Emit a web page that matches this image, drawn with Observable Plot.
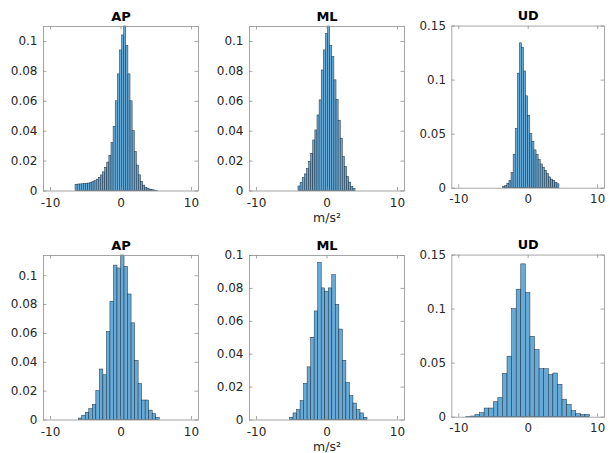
<!DOCTYPE html>
<html>
<head>
<meta charset="utf-8">
<script src="https://cdn.jsdelivr.net/npm/d3@7"></script>
<script src="https://cdn.jsdelivr.net/npm/@observablehq/plot@0.6"></script>
<style>
  body { margin: 0; background: #fff; }
  #fig { position: relative; width: 610px; height: 453px; overflow: hidden; background: #fff; }
  #fig .panel { position: absolute; }
</style>
</head>
<body>
<div id="fig"></div>
<script>
// Acceleration histograms (probability per bin), three axes, two recordings.
const axisNames = ["AP", "ML", "UD"];
const unitLabel = "m/s²";
const xTicks = [-10, 0, 10];
const yTicksFine = [0, 0.02, 0.04, 0.06, 0.08, 0.1];
const yTicksCoarse = [0, 0.05, 0.1, 0.15];

// Row 1 — bin width 0.3
const apTopStart = -6.45, apTopWidth = 0.3;
const apTopProb = [0.0042, 0.0043, 0.0044, 0.0045, 0.0046, 0.0048, 0.0050, 0.0054, 0.0059, 0.0066,
  0.0076, 0.0088, 0.0104, 0.0125, 0.0155, 0.019, 0.0235, 0.032, 0.043, 0.060, 0.078, 0.094, 0.104,
  0.118, 0.097, 0.078, 0.060, 0.040, 0.026, 0.017, 0.0105, 0.0062, 0.0036, 0.0022, 0.0014, 0.0009,
  0.0006, 0.0003, 0.0002];

const mlTopStart = -4.05, mlTopWidth = 0.3;
const mlTopProb = [0.003, 0.0055, 0.0087, 0.0111, 0.0149, 0.0194, 0.0249, 0.0338, 0.0405, 0.0505,
  0.0606, 0.0806, 0.094, 0.105, 0.12, 0.097, 0.0895, 0.074, 0.061, 0.047, 0.035, 0.0227, 0.016,
  0.0094, 0.0056, 0.0027, 0.0013];

const udTopStart = -3.6, udTopWidth = 0.3;
const udTopProb = [0.0012, 0.002, 0.0042, 0.0066, 0.014, 0.031, 0.055, 0.106, 0.134, 0.13, 0.108,
  0.085, 0.067, 0.05, 0.043, 0.035, 0.031, 0.026, 0.022, 0.019, 0.016, 0.013, 0.01, 0.008, 0.0066,
  0.005, 0.0036];

// Row 2 — wider bins
const apBotStart = -6, apBotWidth = 0.5;
const apBotProb = [0.001, 0.003, 0.005, 0.0075, 0.0105, 0.02, 0.035, 0.031, 0.061, 0.082, 0.107,
  0.105, 0.12, 0.106, 0.087, 0.067, 0.041, 0.025, 0.0135, 0.0135, 0.0065, 0.004, 0.0015];

const mlBotStart = -5.25, mlBotWidth = 0.5;
const mlBotProb = [0.0014, 0.004, 0.006, 0.0115, 0.022, 0.032, 0.05, 0.066, 0.0954, 0.080, 0.078,
  0.080, 0.088, 0.070, 0.055, 0.036, 0.0225, 0.0145, 0.010, 0.006, 0.004, 0.0014];

const udBotStart = -8.92, udBotWidth = 0.66;
const udBotProb = [0.0004, 0.0006, 0.002, 0.0037, 0.008, 0.008, 0.0138, 0.0178, 0.040, 0.056, 0.100,
  0.118, 0.1414, 0.1148, 0.0744, 0.062, 0.0444, 0.0444, 0.039, 0.0404, 0.030, 0.0162, 0.0113,
  0.0055, 0.0028, 0.002, 0.002];

// Layout of the 2 x 3 grid (frame positions in page pixels)
const frameW = 155, frameH = 164.5;
const colX = [43, 248.5, 452];
const rowY = [26.3, 254.7];
const m = {left: 46, right: 6, top: 30, bottom: 34};
const ink = "#262626";
const fmt = d => (d === 0 ? "0" : String(d));

function histPanel({title, start, width, probs, yMax, yTicks, xlabel}) {
  const bins = probs.map((p, i) => ({x1: start + i * width, x2: start + (i + 1) * width, p}));
  const tick = 3.5;
  return Plot.plot({
    width: frameW + m.left + m.right,
    height: frameH + m.top + m.bottom,
    marginLeft: m.left, marginRight: m.right, marginTop: m.top, marginBottom: m.bottom,
    style: {fontFamily: "'DejaVu Sans', sans-serif", fontSize: "12px", color: ink, background: "transparent", overflow: "visible"},
    x: {domain: [-11, 11]},
    y: {domain: [0, yMax], clamp: true},
    marks: [
      Plot.rect(bins, {x1: "x1", x2: "x2", y1: 0, y2: "p", fill: "#66aad7", stroke: "#1c2c3c", strokeWidth: 0.5}),
      Plot.frame({stroke: "#8f8f8f", strokeWidth: 0.8}),
      // inward ticks on all four sides
      Plot.tickX(xTicks, {x: d => d, insetTop: frameH - tick, stroke: "#8f8f8f", strokeWidth: 0.8}),
      Plot.tickX(xTicks, {x: d => d, insetBottom: frameH - tick, stroke: "#8f8f8f", strokeWidth: 0.8}),
      Plot.tickY(yTicks, {y: d => d, insetRight: frameW - tick, stroke: "#8f8f8f", strokeWidth: 0.8}),
      Plot.tickY(yTicks, {y: d => d, insetLeft: frameW - tick, stroke: "#8f8f8f", strokeWidth: 0.8}),
      Plot.axisX(xTicks, {tickSize: 0, tickPadding: 7, tickFormat: fmt, label: null, fontSize: 12}),
      Plot.axisY(yTicks, {tickSize: 0, tickPadding: 6, tickFormat: fmt, label: null, fontSize: 12}),
      Plot.text([title], {frameAnchor: "top", lineAnchor: "middle", dy: -10, fontWeight: "bold", fontSize: 13, fill: "#000"}),
      xlabel ? Plot.text([xlabel], {frameAnchor: "bottom", lineAnchor: "middle", dy: 27, fontSize: 12.5, fill: ink}) : null
    ]
  });
}

const panels = [
  {title: axisNames[0], start: apTopStart, width: apTopWidth, probs: apTopProb, yMax: 0.11, yTicks: yTicksFine},
  {title: axisNames[1], start: mlTopStart, width: mlTopWidth, probs: mlTopProb, yMax: 0.11, yTicks: yTicksFine, xlabel: unitLabel},
  {title: axisNames[2], start: udTopStart, width: udTopWidth, probs: udTopProb, yMax: 0.15, yTicks: yTicksCoarse},
  {title: axisNames[0], start: apBotStart, width: apBotWidth, probs: apBotProb, yMax: 0.114, yTicks: yTicksFine},
  {title: axisNames[1], start: mlBotStart, width: mlBotWidth, probs: mlBotProb, yMax: 0.1, yTicks: yTicksFine, xlabel: unitLabel},
  {title: axisNames[2], start: udBotStart, width: udBotWidth, probs: udBotProb, yMax: 0.15, yTicks: yTicksCoarse}
];

const fig = document.getElementById("fig");
panels.forEach((p, i) => {
  const div = document.createElement("div");
  div.className = "panel";
  div.style.left = (colX[i % 3] - m.left) + "px";
  div.style.top = (rowY[Math.floor(i / 3)] - m.top) + "px";
  div.appendChild(histPanel(p));
  fig.appendChild(div);
});
</script>
</body>
</html>
